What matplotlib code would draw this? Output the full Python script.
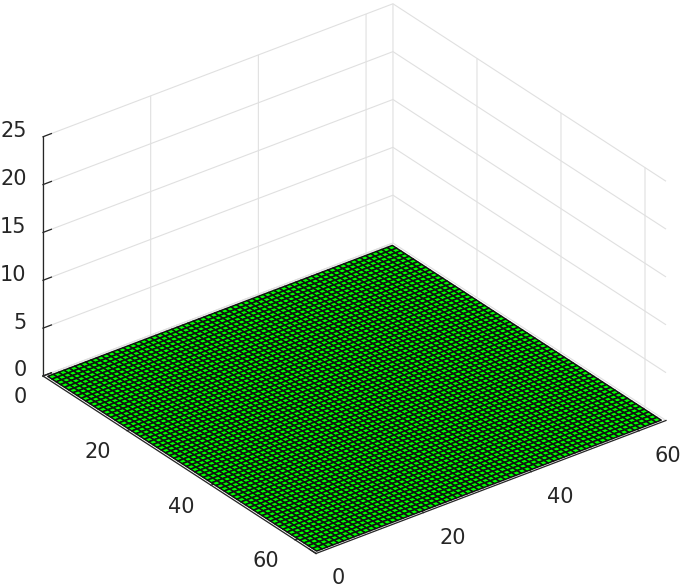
import numpy as np
import matplotlib
matplotlib.use("Agg")
import matplotlib.pyplot as plt
from matplotlib.transforms import Affine2D
from mpl_toolkits.mplot3d import proj3d

W, H = 682, 588
x_edges = np.arange(0.5, 65.0, 1.0)
y_edges = np.arange(0.5, 65.0, 1.0)
heights = np.zeros((65, 65))
x_ticks = [0, 20, 40, 60]
y_ticks = [0, 20, 40, 60]
z_ticks = [0, 5, 10, 15, 20, 25]
x_lim = (0, 65)
y_lim = (0, 65)
z_lim = (0, 25)

plt.rcParams['font.family'] = ['DejaVu Sans']
fig = plt.figure(figsize=(W / 100, H / 100), dpi=100)
ax = fig.add_axes([0, 0, 1, 1], projection='3d', proj_type='ortho')
ax.patch.set_alpha(0)
ax.view_init(elev=29.8, azim=-37.4)
ax.set_box_aspect((450, 441, 276))

X, Y = np.meshgrid(x_edges, y_edges, indexing='ij')
ax.plot_surface(X, Y, heights, rstride=1, cstride=1, color='#00ff00',
                edgecolor='#111111', linewidth=1.1, shade=False, antialiased=True)

ax.set_xlim(*x_lim); ax.set_ylim(*y_lim); ax.set_zlim(*z_lim)
ax.set_xticks(x_ticks); ax.set_yticks(y_ticks); ax.set_zticks(z_ticks)

for axis in (ax.xaxis, ax.yaxis, ax.zaxis):
    axis.set_pane_color((1, 1, 1, 0))
    axis.pane.set_edgecolor((1, 1, 1, 0))
    axis.line.set_color('#262626')
    axis.line.set_linewidth(0.9)
    axis._axinfo['grid'].update(color='#e0e0e0', linewidth=0.8)
    axis._axinfo['tick'].update(inward_factor=0.0, outward_factor=0.3)
    axis._axinfo['tick']['linewidth'] = {True: 0.9, False: 0.9}
ax.zaxis.set_ticks_position('lower')
ax.tick_params(axis='both', labelsize=15, labelcolor='#262626', color='#262626', pad=4)

# Fit the plot box to its place in the picture
fig.canvas.draw()
def px(p):
    a, b, _ = proj3d.proj_transform(*p, ax.get_proj())
    return ax.transData.transform((a, b))
pl, pr = px((0, 0, 0)), px((65, 65, 0))
k = (666 - 43) / (pr[0] - pl[0])
side = min(W, H) * k
u = (pl - np.array([W / 2, H / 2])) * k
cx = 43 - u[0]
cy = (H - 376) - u[1]
ax.set_position([(cx - side / 2) / W, (cy - side / 2) / H, side / W, side / H])

# Tick-label alignment and nudges, in pixels. Axis3D resets label transforms
# whenever it fetches its ticks, so the nudged transform is reported directly.
for axis, ha, dx, dy in ((ax.xaxis, 'right', 0.5, 6.5),
                         (ax.yaxis, 'left', 2.5, 5),
                         (ax.zaxis, 'right', 13.5, 13.5)):
    nudge = ax.transData + Affine2D().translate(dx, dy)
    for tick in axis.get_major_ticks():
        tick.label1.set_ha(ha)
        tick.label1.get_transform = lambda t=nudge: t

fig.savefig('out.png', dpi=100)
